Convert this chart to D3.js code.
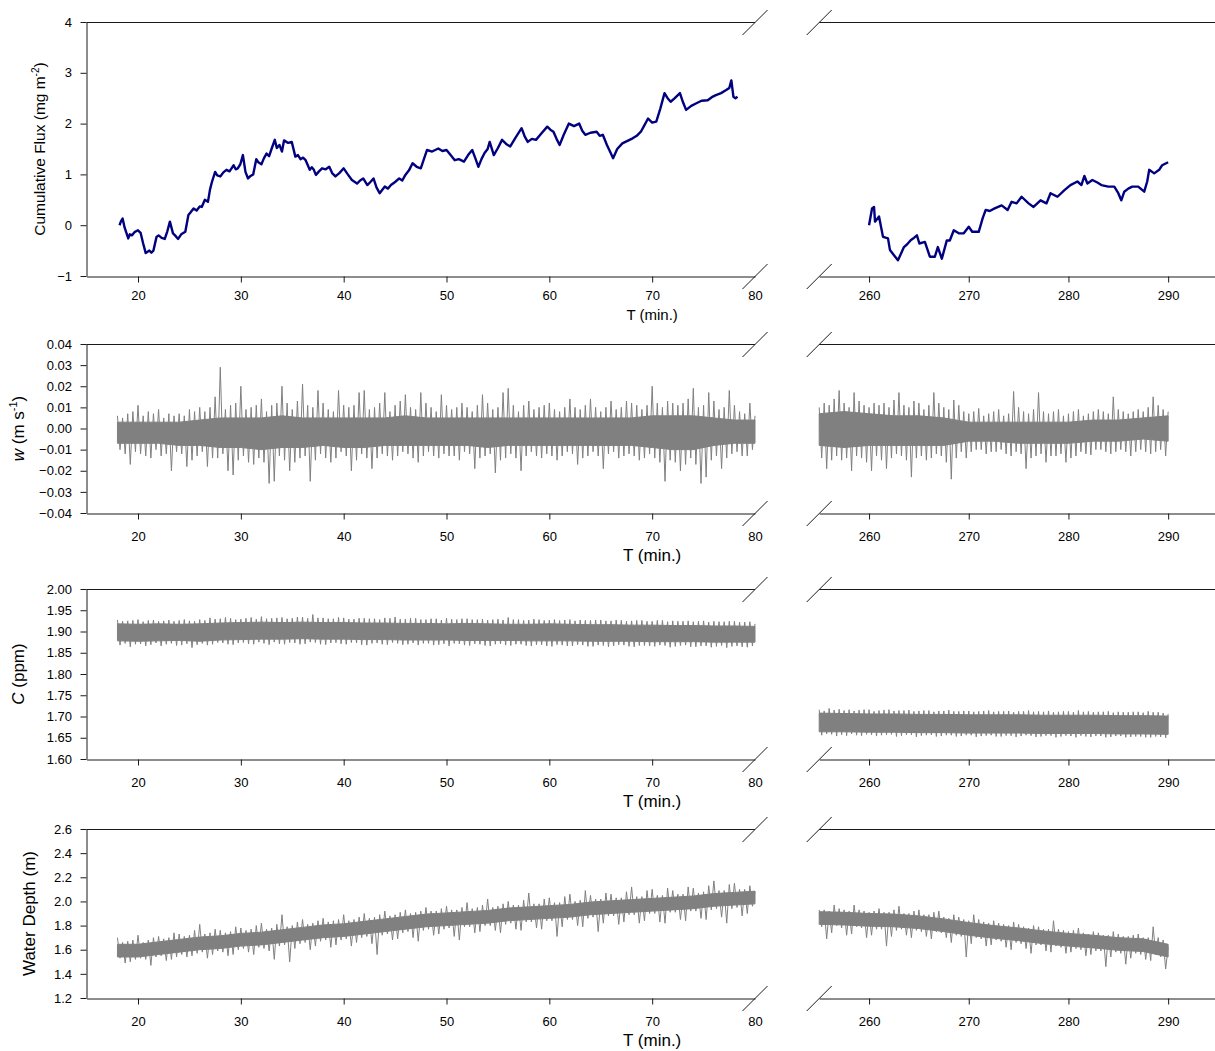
<!DOCTYPE html>
<html><head><meta charset="utf-8">
<script src="https://cdn.jsdelivr.net/npm/d3@7"></script>
<style>
body{margin:0;background:#fff}
text{font-family:Arial,"Liberation Sans",sans-serif;fill:#000}
</style></head>
<body><svg id="chart" width="1215" height="1051"></svg>
<script>
// ---------------- DATA ----------------
const leftTicks = [20, 30, 40, 50, 60, 70, 80];
const rightTicks = [260, 270, 280, 290];
const fluxTicks = [-1, 0, 1, 2, 3, 4];
const wTicks = [-0.04, -0.03, -0.02, -0.01, 0, 0.01, 0.02, 0.03, 0.04];
const cTicks = [1.60, 1.65, 1.70, 1.75, 1.80, 1.85, 1.90, 1.95, 2.00];
const depthTicks = [1.2, 1.4, 1.6, 1.8, 2.0, 2.2, 2.4, 2.6];

// cumulative flux [T (min), mg m-2]
const fluxLeft = [[18.2,0.0],[18.35,0.08],[18.5,0.13],[18.7,-0.05],[19.05,-0.26],[19.2,-0.18],[19.4,-0.2],[19.7,-0.13],[20.0,-0.1],[20.25,-0.15],[20.5,-0.36],[20.75,-0.55],[21.1,-0.5],[21.3,-0.54],[21.5,-0.5],[21.8,-0.23],[22.0,-0.2],[22.3,-0.25],[22.6,-0.27],[22.85,-0.12],[23.1,0.07],[23.4,-0.16],[23.6,-0.2],[23.9,-0.27],[24.2,-0.18],[24.6,-0.13],[24.9,0.2],[25.1,0.25],[25.4,0.33],[25.7,0.29],[26.0,0.37],[26.2,0.36],[26.5,0.5],[26.8,0.46],[27.0,0.7],[27.2,0.86],[27.5,1.05],[27.7,0.98],[28.0,0.96],[28.3,1.04],[28.6,1.09],[28.9,1.06],[29.3,1.18],[29.5,1.1],[29.7,1.12],[29.95,1.2],[30.2,1.38],[30.45,1.05],[30.7,0.92],[30.95,0.97],[31.2,1.0],[31.5,1.3],[31.7,1.24],[32.0,1.2],[32.25,1.32],[32.5,1.41],[32.75,1.36],[33.0,1.51],[33.3,1.68],[33.5,1.52],[33.75,1.58],[34.0,1.45],[34.2,1.67],[34.6,1.62],[34.95,1.64],[35.3,1.35],[35.55,1.38],[35.8,1.3],[36.05,1.33],[36.3,1.28],[36.7,1.09],[36.9,1.14],[37.1,1.09],[37.3,0.99],[37.6,1.06],[37.9,1.12],[38.25,1.1],[38.6,1.15],[38.9,1.02],[39.2,0.96],[39.6,1.03],[40.0,1.12],[40.4,1.0],[40.8,0.89],[41.3,0.82],[41.6,0.88],[41.9,0.92],[42.3,0.79],[42.6,0.85],[42.9,0.92],[43.2,0.74],[43.5,0.63],[44.0,0.76],[44.3,0.72],[44.6,0.79],[45.0,0.85],[45.4,0.92],[45.7,0.88],[46.0,0.99],[46.35,1.08],[46.7,1.22],[47.1,1.15],[47.5,1.12],[47.8,1.3],[48.1,1.48],[48.6,1.45],[49.2,1.51],[49.6,1.46],[50.0,1.48],[50.4,1.38],[50.8,1.28],[51.2,1.3],[51.7,1.25],[52.1,1.38],[52.5,1.48],[52.8,1.32],[53.1,1.15],[53.4,1.3],[53.7,1.42],[54.0,1.5],[54.2,1.64],[54.6,1.38],[55.0,1.52],[55.4,1.68],[55.8,1.6],[56.2,1.55],[56.7,1.72],[57.3,1.91],[57.6,1.75],[57.9,1.64],[58.3,1.7],[58.7,1.68],[59.2,1.8],[59.8,1.94],[60.1,1.88],[60.4,1.84],[60.7,1.7],[61.0,1.58],[61.4,1.78],[61.9,2.0],[62.4,1.95],[62.9,2.0],[63.2,1.86],[63.5,1.78],[64.0,1.82],[64.6,1.84],[64.9,1.76],[65.2,1.78],[65.6,1.58],[65.9,1.45],[66.2,1.32],[66.6,1.5],[67.1,1.61],[67.6,1.66],[68.1,1.71],[68.5,1.76],[68.9,1.84],[69.2,1.95],[69.6,2.1],[70.0,2.02],[70.4,2.04],[70.8,2.3],[71.2,2.6],[71.5,2.5],[71.8,2.43],[72.2,2.5],[72.7,2.6],[73.0,2.42],[73.3,2.27],[73.8,2.35],[74.3,2.4],[74.8,2.45],[75.4,2.46],[75.8,2.52],[76.2,2.56],[76.7,2.6],[77.2,2.66],[77.5,2.7],[77.7,2.85],[77.9,2.53],[78.1,2.5],[78.3,2.53]];
const fluxRight = [[260.0,0.0],[260.3,0.33],[260.5,0.36],[260.6,0.07],[261.0,0.17],[261.2,-0.03],[261.4,-0.23],[261.9,-0.26],[262.1,-0.49],[262.5,-0.59],[262.9,-0.69],[263.2,-0.56],[263.5,-0.43],[263.8,-0.38],[264.2,-0.29],[264.5,-0.25],[264.8,-0.2],[265.05,-0.36],[265.6,-0.33],[266.1,-0.62],[266.6,-0.62],[266.9,-0.43],[267.3,-0.66],[267.8,-0.3],[268.1,-0.3],[268.5,-0.1],[269.0,-0.16],[269.5,-0.16],[270.0,-0.03],[270.35,-0.13],[271.0,-0.13],[271.4,0.14],[271.7,0.3],[272.1,0.28],[272.6,0.33],[273.3,0.39],[273.9,0.3],[274.3,0.46],[274.8,0.43],[275.3,0.56],[276.0,0.43],[276.5,0.36],[277.2,0.49],[277.8,0.43],[278.2,0.63],[278.9,0.56],[279.6,0.69],[280.2,0.79],[280.9,0.86],[281.3,0.79],[281.6,0.97],[281.9,0.82],[282.4,0.89],[282.9,0.84],[283.3,0.79],[284.0,0.76],[284.6,0.76],[285.0,0.63],[285.3,0.49],[285.6,0.66],[286.0,0.72],[286.4,0.76],[287.0,0.76],[287.6,0.66],[287.9,0.86],[288.1,1.09],[288.6,1.02],[289.1,1.09],[289.4,1.18],[289.9,1.23],[290.0,1.24]];

// noisy signals: high / low excursions every 0.25 min, plus dense core band every 2 min (left) / 2.5 min (right)
const leftStart = 18, rightStart = 255;
const wLeft = [0.006,-0.010,0.005,-0.012, 0.007,-0.017,0.008,-0.011, 0.011,-0.012,0.006,-0.013, 0.008,-0.014,0.007,-0.010, 0.009,-0.013,0.005,-0.012, 0.007,-0.020,0.006,-0.011, 0.007,-0.012,0.006,-0.018, 0.009,-0.015,0.008,-0.013, 0.010,-0.011,0.008,-0.018, 0.010,-0.014,0.015,-0.014, 0.029,-0.012,0.009,-0.020, 0.011,-0.022,0.012,-0.015, 0.020,-0.013,0.009,-0.016, 0.010,-0.017,0.011,-0.014, 0.014,-0.016,0.008,-0.026, 0.011,-0.025,0.012,-0.013, 0.020,-0.015,0.012,-0.020, 0.009,-0.016,0.013,-0.014, 0.021,-0.013,0.011,-0.025, 0.010,-0.015,0.018,-0.012, 0.012,-0.014,0.009,-0.016, 0.008,-0.014,0.018,-0.011, 0.011,-0.013,0.010,-0.020, 0.011,-0.015,0.017,-0.012, 0.018,-0.014,0.009,-0.019, 0.010,-0.014,0.012,-0.012, 0.017,-0.013,0.008,-0.015, 0.011,-0.013,0.013,-0.011, 0.016,-0.012,0.010,-0.014, 0.009,-0.016,0.017,-0.013, 0.012,-0.011,0.010,-0.013, 0.008,-0.014,0.016,-0.012, 0.011,-0.013,0.009,-0.013, 0.010,-0.015,0.012,-0.011, 0.010,-0.012,0.008,-0.019, 0.011,-0.014,0.016,-0.013, 0.012,-0.012,0.009,-0.021, 0.010,-0.015,0.017,-0.014, 0.019,-0.012,0.011,-0.014, 0.008,-0.020,0.011,-0.013, 0.013,-0.011,0.009,-0.013, 0.010,-0.014,0.011,-0.012, 0.012,-0.013,0.009,-0.015, 0.008,-0.013,0.010,-0.011, 0.014,-0.012,0.010,-0.017, 0.009,-0.014,0.011,-0.013, 0.014,-0.011,0.010,-0.013, 0.008,-0.019,0.010,-0.012, 0.013,-0.011,0.009,-0.014, 0.010,-0.013,0.013,-0.012, 0.012,-0.013,0.011,-0.015, 0.009,-0.014,0.011,-0.012, 0.020,-0.014,0.012,-0.016, 0.010,-0.025,0.013,-0.015, 0.012,-0.016,0.011,-0.020, 0.012,-0.017,0.014,-0.014, 0.019,-0.017,0.010,-0.026, 0.011,-0.023,0.017,-0.015, 0.013,-0.013,0.009,-0.019, 0.010,-0.014,0.018,-0.012, 0.011,-0.011,0.008,-0.013, 0.007,-0.013,0.012,-0.010, 0.006];
const wRight = [0.010,-0.014,0.012,-0.019, 0.011,-0.015,0.014,-0.013, 0.018,-0.015,0.012,-0.014, 0.010,-0.020,0.017,-0.013, 0.013,-0.014,0.011,-0.016, 0.010,-0.020,0.012,-0.013, 0.011,-0.015,0.012,-0.019, 0.010,-0.014,0.0135,-0.012, 0.017,-0.013,0.011,-0.015, 0.010,-0.023,0.013,-0.014, 0.012,-0.013,0.009,-0.015, 0.011,-0.014,0.017,-0.012, 0.012,-0.013,0.010,-0.016, 0.009,-0.024,0.0135,-0.014, 0.011,-0.011,0.008,-0.014, 0.007,-0.011,0.008,-0.010, 0.0095,-0.010,0.006,-0.012, 0.007,-0.011,0.008,-0.011, 0.009,-0.010,0.006,-0.012, 0.007,-0.013,0.0175,-0.011, 0.010,-0.012,0.008,-0.019, 0.007,-0.014,0.009,-0.013, 0.017,-0.012,0.008,-0.016, 0.007,-0.013,0.008,-0.013, 0.009,-0.012,0.006,-0.016, 0.007,-0.014,0.008,-0.013, 0.009,-0.011,0.006,-0.012, 0.007,-0.0125,0.008,-0.010, 0.009,-0.010,0.008,-0.011, 0.007,-0.012,0.015,-0.011, 0.009,-0.010,0.008,-0.011, 0.007,-0.013,0.008,-0.011, 0.009,-0.010,0.008,-0.011, 0.010,-0.012,0.015,-0.011, 0.011,-0.010,0.009,-0.013, 0.008];
const wCoreLeftHi = [0.003,0.003,0.003,0.003,0.004,0.005,0.005,0.005,0.006,0.005,0.005,0.005,0.005,0.005,0.006,0.005,0.005,0.005,0.005,0.005,0.005,0.005,0.005,0.005,0.005,0.005,0.006,0.006,0.006,0.005,0.004,0.004];
const wCoreLeftLo = [-0.007,-0.007,-0.007,-0.008,-0.008,-0.009,-0.009,-0.010,-0.009,-0.009,-0.008,-0.009,-0.009,-0.008,-0.008,-0.008,-0.008,-0.008,-0.009,-0.008,-0.008,-0.008,-0.008,-0.008,-0.008,-0.008,-0.009,-0.010,-0.010,-0.008,-0.007,-0.007];
const wCoreRightHi = [0.007,0.008,0.007,0.006,0.006,0.005,0.003,0.003,0.003,0.003,0.003,0.004,0.004,0.005,0.006];
const wCoreRightLo = [-0.008,-0.009,-0.008,-0.008,-0.008,-0.008,-0.006,-0.006,-0.007,-0.007,-0.007,-0.006,-0.006,-0.005,-0.006];

const cLeft = [1.927,1.868,1.924,1.872, 1.925,1.864,1.926,1.870, 1.928,1.871,1.923,1.866, 1.926,1.869,1.927,1.873, 1.924,1.866,1.925,1.870, 1.927,1.872,1.924,1.867, 1.926,1.868,1.928,1.871, 1.925,1.862,1.924,1.869, 1.928,1.872,1.926,1.868, 1.932,1.870,1.929,1.874, 1.930,1.873,1.933,1.870, 1.931,1.869,1.928,1.873, 1.929,1.874,1.931,1.871, 1.933,1.870,1.929,1.875, 1.935,1.872,1.930,1.869, 1.931,1.875,1.932,1.871, 1.933,1.870,1.930,1.874, 1.931,1.873,1.934,1.870, 1.934,1.871,1.931,1.875, 1.940,1.874,1.932,1.870, 1.932,1.869,1.930,1.873, 1.930,1.874,1.933,1.871, 1.932,1.870,1.929,1.874, 1.929,1.873,1.931,1.869, 1.931,1.868,1.930,1.872, 1.930,1.873,1.928,1.870, 1.932,1.869,1.931,1.874, 1.934,1.872,1.929,1.869, 1.929,1.870,1.931,1.873, 1.931,1.868,1.928,1.872, 1.928,1.872,1.930,1.868, 1.930,1.869,1.927,1.871, 1.931,1.866,1.929,1.872, 1.928,1.871,1.930,1.868, 1.930,1.867,1.928,1.871, 1.928,1.870,1.929,1.867, 1.927,1.866,1.928,1.870, 1.929,1.871,1.927,1.868, 1.933,1.867,1.928,1.870, 1.928,1.870,1.926,1.867, 1.927,1.866,1.929,1.869, 1.928,1.869,1.926,1.866, 1.927,1.865,1.928,1.869, 1.926,1.868,1.927,1.866, 1.928,1.866,1.925,1.869, 1.927,1.868,1.926,1.865, 1.926,1.865,1.927,1.868, 1.927,1.867,1.925,1.864, 1.925,1.866,1.927,1.869, 1.926,1.868,1.924,1.865, 1.925,1.864,1.926,1.867, 1.926,1.867,1.924,1.866, 1.924,1.865,1.926,1.868, 1.926,1.867,1.923,1.863, 1.925,1.865,1.924,1.867, 1.924,1.868,1.925,1.864, 1.923,1.864,1.924,1.866, 1.925,1.866,1.922,1.863, 1.924,1.865,1.923,1.867, 1.923,1.862,1.924,1.865, 1.924,1.866,1.922,1.864, 1.922,1.863,1.923,1.866, 1.918];
const cRight = [1.716,1.656,1.713,1.659, 1.719,1.658,1.715,1.654, 1.717,1.657,1.714,1.655, 1.716,1.659,1.713,1.656, 1.715,1.655,1.716,1.658, 1.716,1.657,1.712,1.654, 1.714,1.656,1.715,1.657, 1.716,1.658,1.713,1.653, 1.714,1.655,1.714,1.657, 1.715,1.657,1.712,1.652, 1.713,1.655,1.714,1.656, 1.714,1.657,1.711,1.653, 1.713,1.654,1.713,1.656, 1.715,1.656,1.712,1.653, 1.712,1.654,1.713,1.656, 1.713,1.656,1.711,1.652, 1.712,1.654,1.713,1.655, 1.714,1.656,1.711,1.653, 1.712,1.653,1.712,1.655, 1.713,1.655,1.710,1.652, 1.712,1.654,1.712,1.656, 1.714,1.655,1.711,1.652, 1.712,1.653,1.711,1.655, 1.713,1.655,1.710,1.651, 1.711,1.653,1.712,1.655, 1.712,1.654,1.710,1.651, 1.714,1.655,1.711,1.653, 1.712,1.652,1.710,1.654, 1.711,1.654,1.711,1.651, 1.712,1.652,1.709,1.654, 1.711,1.654,1.710,1.651, 1.710,1.652,1.711,1.653, 1.711,1.653,1.709,1.651, 1.712,1.651,1.710,1.653, 1.710,1.652,1.708,1.650, 1.706];
const cCoreLeftHi = [1.918,1.917,1.918,1.917,1.918,1.920,1.921,1.922,1.921,1.922,1.921,1.921,1.920,1.920,1.919,1.919,1.918,1.919,1.918,1.917,1.917,1.918,1.917,1.916,1.916,1.915,1.915,1.914,1.914,1.913,1.913,1.912];
const cCoreLeftLo = [1.878,1.877,1.878,1.879,1.877,1.880,1.881,1.882,1.882,1.883,1.882,1.882,1.881,1.881,1.880,1.880,1.880,1.879,1.879,1.879,1.878,1.878,1.878,1.877,1.877,1.877,1.876,1.876,1.876,1.875,1.875,1.875];
const cCoreRightHi = [1.708,1.707,1.706,1.706,1.705,1.705,1.704,1.704,1.704,1.703,1.703,1.703,1.702,1.702,1.701];
const cCoreRightLo = [1.664,1.664,1.663,1.663,1.662,1.662,1.661,1.661,1.661,1.660,1.660,1.660,1.659,1.659,1.658];

const depthLeft = [1.70,1.53,1.66,1.49, 1.67,1.50,1.68,1.52, 1.72,1.53,1.66,1.52, 1.68,1.47,1.70,1.54, 1.71,1.55,1.69,1.51, 1.70,1.52,1.74,1.54, 1.73,1.56,1.71,1.54, 1.72,1.55,1.76,1.57, 1.81,1.58,1.73,1.53, 1.74,1.56,1.77,1.59, 1.76,1.58,1.74,1.55, 1.75,1.56,1.79,1.60, 1.78,1.61,1.76,1.58, 1.77,1.56,1.80,1.62, 1.82,1.61,1.77,1.59, 1.78,1.52,1.81,1.63, 1.89,1.64,1.79,1.50, 1.80,1.61,1.83,1.65, 1.85,1.66,1.81,1.60, 1.82,1.63,1.84,1.67, 1.86,1.68,1.83,1.62, 1.84,1.64,1.85,1.68, 1.89,1.69,1.84,1.63, 1.85,1.66,1.87,1.70, 1.90,1.71,1.86,1.65, 1.87,1.56,1.89,1.72, 1.92,1.73,1.88,1.68, 1.89,1.69,1.91,1.74, 1.93,1.75,1.90,1.70, 1.91,1.67,1.92,1.76, 1.95,1.77,1.92,1.72, 1.92,1.73,1.94,1.77, 1.96,1.78,1.93,1.71, 1.93,1.68,1.95,1.79, 1.99,1.79,1.94,1.74, 1.95,1.75,1.97,1.80, 2.02,1.80,1.95,1.76, 1.96,1.74,1.98,1.81, 2.00,1.82,1.97,1.77, 1.97,1.76,2.01,1.83, 2.07,1.83,1.98,1.78, 1.98,1.77,2.02,1.84, 2.03,1.84,1.99,1.71, 1.99,1.79,2.04,1.85, 2.06,1.85,2.00,1.80, 2.01,1.79,2.09,1.86, 2.05,1.87,2.02,1.75, 2.02,1.82,2.07,1.88, 2.06,1.88,2.03,1.81, 2.03,1.83,2.08,1.89, 2.12,1.89,2.04,1.82, 2.04,1.84,2.09,1.90, 2.10,1.90,2.05,1.83, 2.05,1.82,2.11,1.91, 2.09,1.91,2.06,1.85, 2.06,1.84,2.12,1.92, 2.11,1.92,2.07,1.86, 2.08,1.85,2.13,1.93, 2.17,1.94,2.09,1.87, 2.09,1.82,2.14,1.94, 2.15,1.95,2.10,1.88, 2.10,1.90,2.13,1.96, 2.08];
const depthRight = [1.93,1.79,1.93,1.69, 1.92,1.74,1.97,1.80, 1.94,1.78,1.93,1.72, 1.92,1.73,1.97,1.79, 1.93,1.78,1.92,1.70, 1.91,1.72,1.92,1.77, 1.94,1.77,1.91,1.63, 1.91,1.71,1.93,1.76, 1.96,1.77,1.90,1.72, 1.90,1.70,1.92,1.76, 1.93,1.75,1.89,1.71, 1.89,1.69,1.91,1.75, 1.92,1.74,1.87,1.70, 1.86,1.66,1.89,1.72, 1.87,1.71,1.85,1.54, 1.84,1.65,1.89,1.70, 1.85,1.69,1.83,1.63, 1.82,1.64,1.84,1.68, 1.82,1.67,1.81,1.62, 1.80,1.60,1.83,1.66, 1.81,1.65,1.79,1.61, 1.78,1.57,1.80,1.64, 1.79,1.64,1.77,1.59, 1.77,1.58,1.84,1.63, 1.77,1.62,1.76,1.57, 1.75,1.58,1.76,1.61, 1.78,1.60,1.74,1.55, 1.73,1.56,1.75,1.59, 1.74,1.59,1.72,1.46, 1.72,1.54,1.75,1.58, 1.73,1.57,1.71,1.48, 1.71,1.53,1.72,1.57, 1.73,1.56,1.70,1.52, 1.70,1.51,1.79,1.56, 1.70,1.54,1.68,1.44, 1.62];
const depthCoreLeftHi = [1.645,1.645,1.665,1.685,1.705,1.715,1.735,1.745,1.765,1.785,1.805,1.815,1.835,1.855,1.875,1.895,1.905,1.915,1.925,1.945,1.955,1.965,1.975,1.995,2.005,2.015,2.025,2.035,2.045,2.065,2.075,2.085];
const depthCoreLeftLo = [1.54,1.54,1.56,1.58,1.60,1.61,1.63,1.64,1.66,1.68,1.70,1.71,1.73,1.75,1.77,1.79,1.80,1.81,1.82,1.84,1.85,1.86,1.87,1.89,1.90,1.91,1.92,1.93,1.94,1.96,1.97,1.98];
const depthCoreRightHi = [1.915,1.91,1.90,1.895,1.88,1.855,1.825,1.80,1.78,1.755,1.735,1.72,1.70,1.69,1.645];
const depthCoreRightLo = [1.81,1.805,1.795,1.79,1.775,1.75,1.72,1.695,1.675,1.65,1.63,1.615,1.595,1.585,1.54];

// sampling steps (min)
const zigStep = 0.25, coreStepLeft = 2, coreStepRight = 2.5;

// ---------------- DRAW ----------------
const svg = d3.select("#chart");
const xL = d3.scaleLinear().domain([15, 80]).range([86.6, 755]);
const xR = d3.scaleLinear().domain([255, 294.7]).range([819.2, 1215]);
const GRAY = "#808080", NAVY = "#000080", AX = "#1a1a1a";
const FONT = "Arial, 'Liberation Sans', sans-serif";

const panels = [
  {top: 22, bottom: 276, dom: [-1, 4], ticks: fluxTicks, fmt: d3.format("d"), tickLblOff: 23.5, tFont: 15, tOff: 44, yTitleX: 40, yFont: 15.5},
  {top: 344, bottom: 513, dom: [-0.04, 0.04], ticks: wTicks, fmt: d3.format(".2f"), tickLblOff: 27.5, tFont: 17, tOff: 48, yTitleX: 18, yFont: 17},
  {top: 589, bottom: 759, dom: [1.6, 2.0], ticks: cTicks, fmt: d3.format(".2f"), tickLblOff: 27.5, tFont: 17, tOff: 48, yTitleX: 18, yFont: 17},
  {top: 829, bottom: 998, dom: [1.2, 2.6], ticks: depthTicks, fmt: d3.format(".1f"), tickLblOff: 27.5, tFont: 17, tOff: 48, yTitleX: 29, yFont: 17}
];

function slash(g, cx, cy) {
  g.append("line").attr("x1", cx - 12.5).attr("y1", cy + 12.5).attr("x2", cx + 12.5).attr("y2", cy - 12.5)
    .attr("stroke", AX).attr("stroke-width", 1);
}

panels.forEach((p, pi) => {
  const g = svg.append("g");
  p.y = d3.scaleLinear().domain(p.dom).range([p.bottom, p.top]);
  const top = Math.round(p.top) + 0.5, bot = Math.round(p.bottom) + 0.5;

  g.append("line").attr("x1", 86.5).attr("x2", xL(80)).attr("y1", top).attr("y2", top).attr("stroke", AX);
  g.append("line").attr("x1", xR(255)).attr("x2", 1215).attr("y1", top).attr("y2", top).attr("stroke", AX);

  const pad = p.tickLblOff - 6 - 9.2;
  const gL = g.append("g").attr("transform", `translate(0,${bot})`)
    .call(d3.axisBottom(xL).tickValues(leftTicks).tickSize(6).tickSizeOuter(0).tickPadding(pad));
  gL.selectAll(".tick").filter(d => d === 80).select("line").remove();
  const gR = g.append("g").attr("transform", `translate(0,${bot})`)
    .call(d3.axisBottom(xR).tickValues(rightTicks).tickSize(6).tickSizeOuter(0).tickPadding(pad));
  const gy = g.append("g").attr("transform", "translate(86.5,0)")
    .call(d3.axisLeft(p.y).tickValues(p.ticks).tickSize(6).tickSizeOuter(0).tickPadding(8.5).tickFormat(p.fmt));
  [gL, gR, gy].forEach(a => {
    a.attr("font-size", 13).attr("font-family", FONT);
    a.selectAll("path.domain").attr("stroke", AX);
    a.selectAll(".tick line").attr("stroke", AX);
    a.selectAll(".tick text").attr("fill", "#000");
  });

  slash(g, xL(80), top); slash(g, xL(80), bot);
  slash(g, xR(255), top); slash(g, xR(255), bot);

  g.append("text").attr("x", xL(70)).attr("y", p.bottom + p.tOff).attr("text-anchor", "middle")
    .attr("font-size", p.tFont).text("T (min.)");

  const yt = g.append("text").attr("transform", `translate(${p.yTitleX},${(p.top + p.bottom) / 2}) rotate(-90)`)
    .attr("text-anchor", "middle").attr("dy", "0.35em").attr("font-size", p.yFont);
  if (pi === 0) {
    yt.append("tspan").text("Cumulative Flux (mg m");
    yt.append("tspan").attr("font-size", 10).attr("dy", -6).text("-2");
    yt.append("tspan").attr("dy", 6).text(")");
  } else if (pi === 1) {
    yt.append("tspan").attr("font-style", "italic").text("w");
    yt.append("tspan").text(" (m s");
    yt.append("tspan").attr("font-size", 11).attr("dy", -7).text("-1");
    yt.append("tspan").attr("dy", 7).text(")");
  } else if (pi === 2) {
    yt.append("tspan").attr("font-style", "italic").text("C");
    yt.append("tspan").text(" (ppm)");
  } else {
    yt.append("tspan").text("Water Depth (m)");
  }
});

// flux lines
const fl = (xs) => d3.line().x(d => xs(d[0])).y(d => panels[0].y(d[1]));
[[fluxLeft, xL], [fluxRight, xR]].forEach(([data, xs]) => {
  svg.append("path").datum(data).attr("d", fl(xs)).attr("fill", "none").attr("stroke", NAVY)
    .attr("stroke-width", 2.4).attr("stroke-linejoin", "round");
});

// noisy signals
function noisy(panel, xs, t0, zig, coreHi, coreLo, coreStep) {
  const y = panel.y;
  const idx = d3.range(coreHi.length);
  const area = d3.area().x(i => xs(t0 + i * coreStep)).y0(i => y(coreLo[i])).y1(i => y(coreHi[i]));
  svg.append("path").datum(idx).attr("d", area).attr("fill", GRAY).attr("stroke", GRAY).attr("stroke-width", 1);
  const line = d3.line().x((d, i) => xs(t0 + i * zigStep)).y(d => y(d));
  svg.append("path").datum(zig).attr("d", line).attr("fill", "none").attr("stroke", GRAY).attr("stroke-width", 1);
}
noisy(panels[1], xL, leftStart, wLeft, wCoreLeftHi, wCoreLeftLo, coreStepLeft);
noisy(panels[1], xR, rightStart, wRight, wCoreRightHi, wCoreRightLo, coreStepRight);
noisy(panels[2], xL, leftStart, cLeft, cCoreLeftHi, cCoreLeftLo, coreStepLeft);
noisy(panels[2], xR, rightStart, cRight, cCoreRightHi, cCoreRightLo, coreStepRight);
noisy(panels[3], xL, leftStart, depthLeft, depthCoreLeftHi, depthCoreLeftLo, coreStepLeft);
noisy(panels[3], xR, rightStart, depthRight, depthCoreRightHi, depthCoreRightLo, coreStepRight);
</script></body></html>
